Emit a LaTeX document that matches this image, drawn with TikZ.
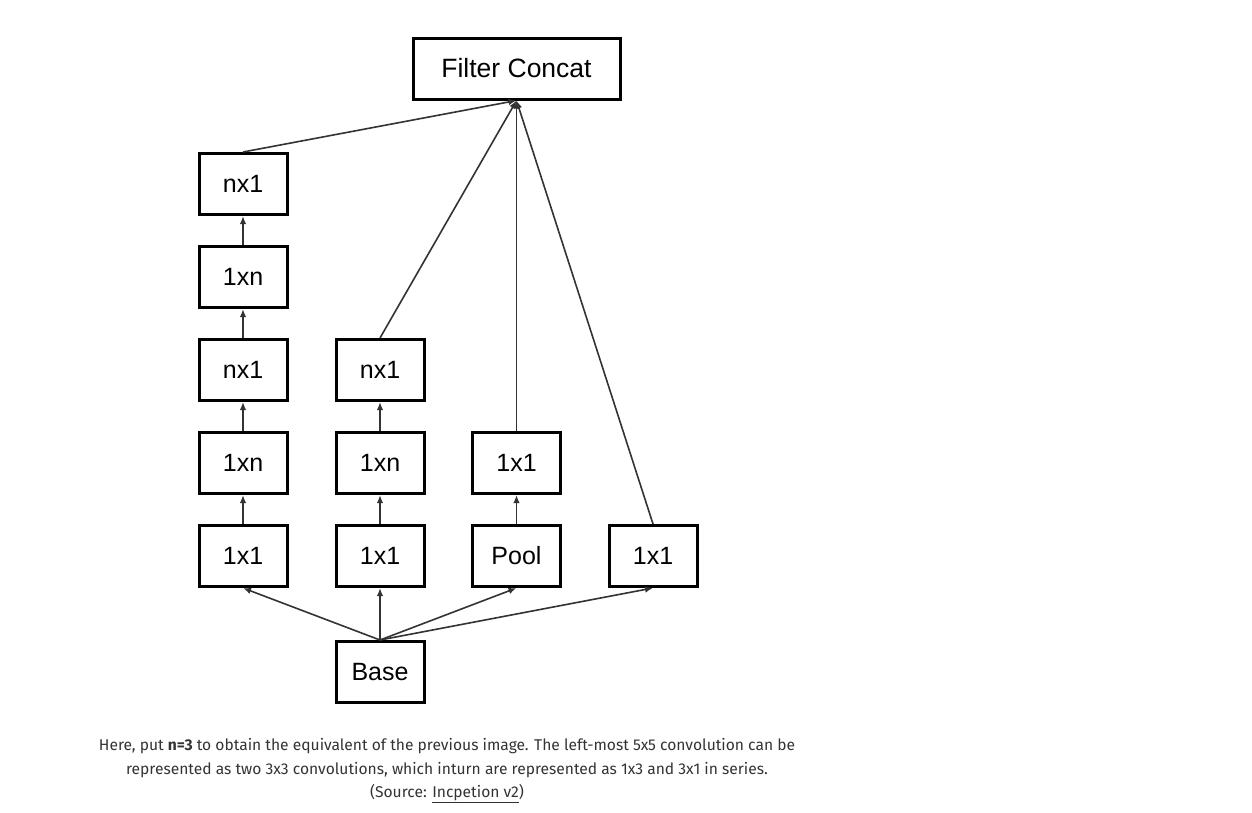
\documentclass[tikz,border=0pt]{standalone}
\usepackage{fontspec}
\setmainfont{Liberation Sans}
\newfontfamily\captionfont{Fira Sans}
\usepackage{xcolor}
\usetikzlibrary{arrows.meta}
\definecolor{linegray}{HTML}{333333}
\definecolor{textgray}{HTML}{333333}

\begin{document}
\begin{tikzpicture}[x=1pt,y=1pt,
    box/.style={draw=black, line width=3pt, minimum width=88pt, minimum height=61pt,
      inner sep=0pt, font=\fontsize{25}{30}\selectfont},
    conn/.style={draw=linegray, line width=1.6pt, -{Latex[length=8pt,width=6.5pt]}}]
  \useasboundingbox (0,0) rectangle (1252,-812);
  % output
  \node[box, minimum width=207pt, font=\fontsize{26.5}{31}\selectfont] (concat) at (516.5,-68.5) {Filter Concat};
  % column 1
  \node[box] (aa) at (243,-556) {1x1};
  \node[box] (ab) at (243,-463) {1xn};
  \node[box] (ac) at (243,-370) {nx1};
  \node[box] (ad) at (243,-277) {1xn};
  \node[box] (ae) at (243,-184) {nx1};
  % column 2
  \node[box] (ba) at (380,-556) {1x1};
  \node[box] (bb) at (380,-463) {1xn};
  \node[box] (bc) at (380,-370) {nx1};
  % column 3
  \node[box] (ca) at (516.5,-556) {Pool};
  \node[box] (cb) at (516.5,-463) {1x1};
  % column 4
  \node[box] (da) at (653,-556) {1x1};
  % input
  \node[box] (base) at (380,-672) {Base};

  \draw[conn] (base.north) -- (aa.south);
  \draw[conn] (base.north) -- (ba.south);
  \draw[conn] (base.north) -- (ca.south);
  \draw[conn] (base.north) -- (da.south);
  \draw[conn] (aa) -- (ab);
  \draw[conn] (ab) -- (ac);
  \draw[conn] (ac) -- (ad);
  \draw[conn] (ad) -- (ae);
  \draw[conn] (ba) -- (bb);
  \draw[conn] (bb) -- (bc);
  \draw[conn] (ca) -- (cb);
  \draw[conn] (ae.north) -- (concat.south);
  \draw[conn] (bc.north) -- (concat.south);
  \draw[conn] (cb.north) -- (concat.south);
  \draw[conn] (da.north) -- (concat.south);

  % caption
  \node[text=textgray, align=center, font=\captionfont\fontsize{15.6}{23.5}\selectfont]
    (caption) at (447,-771) {Here, put \textbf{n=3} to obtain the equivalent of the previous image. The left-most 5x5 convolution can be\\
    represented as two 3x3 convolutions, which inturn are represented as 1x3 and 3x1 in series.\\
    (Source: \underline{Incpetion v2})};
\end{tikzpicture}
\end{document}
